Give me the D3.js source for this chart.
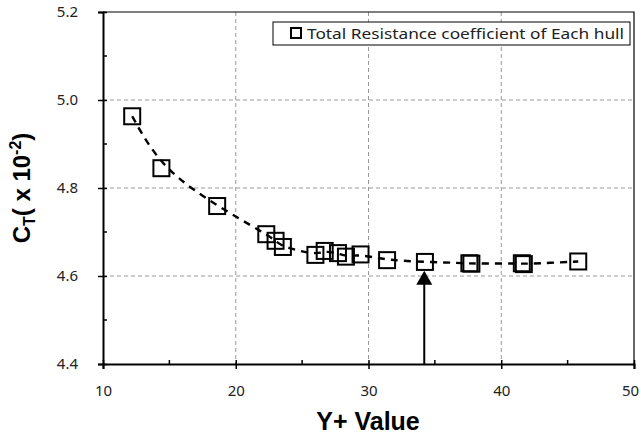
<!DOCTYPE html>
<html><head><meta charset="utf-8">
<script src="https://cdn.jsdelivr.net/npm/d3@7"></script>
<style>body{margin:0;background:#fff}svg{display:block}</style>
</head><body>
<svg id="c" width="641" height="438"></svg>
<script>
const yPlus = [12.2, 14.4, 18.6, 22.3, 23.0, 23.55, 26.0, 26.7, 27.7, 28.3, 29.4, 31.4, 34.25, 37.6, 37.75, 41.55, 41.7, 45.8];
const ct    = [4.963, 4.845, 4.759, 4.695, 4.680, 4.666, 4.648, 4.657, 4.652, 4.644, 4.649, 4.636, 4.632, 4.629, 4.628, 4.629, 4.627, 4.633];
const xTicks = [10, 20, 30, 40, 50];
const yTicks = [4.4, 4.6, 4.8, 5.0, 5.2];
const xMinor = [15, 25, 35, 45];
const yMinor = [4.5, 4.7, 4.9, 5.1];
const arrowX = 34.2, arrowFrom = 4.4, arrowTo = 4.612;
const legendLabel = "Total Resistance coefficient of Each hull";

const svg = d3.select("#c");
const L = 103, R = 634, T = 12, B = 364;
const x = d3.scaleLinear().domain([10, 50]).range([L, R]);
const y = d3.scaleLinear().domain([4.4, 5.2]).range([B, T]);
const font = "'Noto Sans', 'DejaVu Sans', sans-serif";
const bold = "'Liberation Sans', Arial, sans-serif";

// grid
svg.append("g").selectAll("line").data(xTicks.slice(1, -1)).join("line")
  .attr("x1", d => x(d)).attr("x2", d => x(d)).attr("y1", T).attr("y2", B)
  .attr("stroke", "#999").attr("stroke-width", 1).attr("stroke-dasharray", "4,3");
svg.append("g").selectAll("line").data(yTicks.slice(1, -1)).join("line")
  .attr("y1", d => y(d)).attr("y2", d => y(d)).attr("x1", L).attr("x2", R)
  .attr("stroke", "#999").attr("stroke-width", 1).attr("stroke-dasharray", "4,3");

// top & right border
svg.append("path").attr("d", `M${L},${T}H${R}V${B}`).attr("fill", "none")
  .attr("stroke", "#000").attr("stroke-width", 1.2);

// axes
const xAxis = svg.append("g").attr("transform", `translate(0,${B})`)
  .call(d3.axisBottom(x).tickValues(xTicks).tickSize(5).tickPadding(16).tickFormat(d3.format("d")));
xAxis.select(".domain").attr("stroke-width", 2);
xAxis.selectAll(".tick line").attr("stroke-width", 1.5).attr("y1", -4);
xAxis.selectAll(".tick text").attr("font-family", font).attr("font-size", 15).attr("fill", "#222")
  .attr("dx", d => d === 50 ? -4 : 0);
svg.append("g").selectAll("line").data(xMinor).join("line")
  .attr("x1", d => x(d)).attr("x2", d => x(d)).attr("y1", B).attr("y2", B - 4)
  .attr("stroke", "#000").attr("stroke-width", 1.5);

const yAxis = svg.append("g").attr("transform", `translate(${L},0)`)
  .call(d3.axisLeft(y).tickValues(yTicks).tickSize(5).tickPadding(20).tickFormat(d3.format(".1f")));
yAxis.select(".domain").attr("stroke-width", 2);
yAxis.selectAll(".tick line").attr("stroke-width", 1.5).attr("x1", 4);
yAxis.selectAll(".tick text").attr("font-family", font).attr("font-size", 15).attr("fill", "#222");
svg.append("g").selectAll("line").data(yMinor).join("line")
  .attr("y1", d => y(d)).attr("y2", d => y(d)).attr("x1", L).attr("x2", L + 4)
  .attr("stroke", "#000").attr("stroke-width", 1.5);

// dashed trend curve through the points
const pts = yPlus.map((v, i) => [v, ct[i]]);
svg.append("path").datum(pts)
  .attr("d", d3.line().x(d => x(d[0])).y(d => y(d[1])).curve(d3.curveBasis))
  .attr("fill", "none").attr("stroke", "#000").attr("stroke-width", 2.4).attr("stroke-dasharray", "7,6");

// markers
const s = 16;
svg.append("g").selectAll("rect").data(pts).join("rect")
  .attr("x", d => x(d[0]) - s / 2).attr("y", d => y(d[1]) - s / 2)
  .attr("width", s).attr("height", s)
  .attr("fill", "none").attr("stroke", "#000").attr("stroke-width", 2);

// arrow
svg.append("line").attr("x1", x(arrowX)).attr("x2", x(arrowX))
  .attr("y1", y(arrowFrom)).attr("y2", y(arrowTo) + 12)
  .attr("stroke", "#000").attr("stroke-width", 2);
const ax = x(arrowX), ay = y(arrowTo);
svg.append("path").attr("d", `M${ax},${ay}L${ax - 8},${ay + 14}L${ax + 8},${ay + 14}Z`).attr("fill", "#000");

// legend
svg.append("rect").attr("x", 273).attr("y", 22).attr("width", 357).attr("height", 23)
  .attr("fill", "#fff").attr("stroke", "#000").attr("stroke-width", 1);
svg.append("rect").attr("x", 291).attr("y", 28).attr("width", 10).attr("height", 10)
  .attr("fill", "#fff").attr("stroke", "#000").attr("stroke-width", 2);
svg.append("text").attr("x", 307).attr("y", 39).text(legendLabel)
  .attr("font-family", font).attr("font-size", 15).attr("fill", "#222")
  .attr("textLength", 317).attr("lengthAdjust", "spacingAndGlyphs");

// axis titles
svg.append("text").attr("x", 368).attr("y", 430).attr("text-anchor", "middle")
  .attr("font-family", bold).attr("font-weight", "bold").attr("font-size", 25)
  .text("Y+ Value");
const yt = svg.append("text").attr("transform", "translate(30,188) rotate(-90)").attr("text-anchor", "middle")
  .attr("font-family", bold).attr("font-weight", "bold").attr("font-size", 24);
yt.append("tspan").text("C");
yt.append("tspan").attr("font-size", 16).attr("dy", 5).text("T");
yt.append("tspan").attr("dy", -5).text("( x 10");
yt.append("tspan").attr("font-size", 16).attr("dy", -9).text("-2");
yt.append("tspan").attr("dy", 9).text(")");
</script>
</body></html>
